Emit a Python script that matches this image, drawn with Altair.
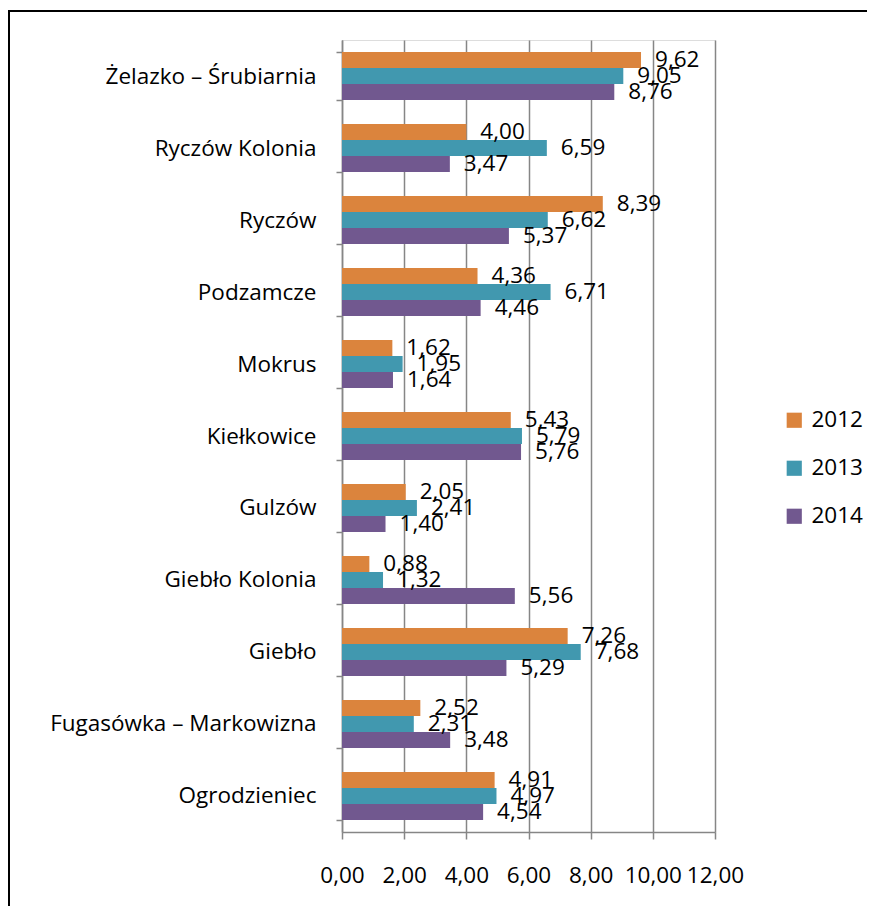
import altair as alt
import pandas as pd

categories = ["Żelazko – Śrubiarnia", "Ryczów Kolonia", "Ryczów", "Podzamcze", "Mokrus",
              "Kiełkowice", "Gulzów", "Giebło Kolonia", "Giebło", "Fugasówka – Markowizna",
              "Ogrodzieniec"]
years = ["2012", "2013", "2014"]
v2012 = [9.62, 4.00, 8.39, 4.36, 1.62, 5.43, 2.05, 0.88, 7.26, 2.52, 4.91]
v2013 = [9.05, 6.59, 6.62, 6.71, 1.95, 5.79, 2.41, 1.32, 7.68, 2.31, 4.97]
v2014 = [8.76, 3.47, 5.37, 4.46, 1.64, 5.76, 1.40, 5.56, 5.29, 3.48, 4.54]
colors = ["#DB843D", "#4198AF", "#71588F"]
x_ticks = [0, 2, 4, 6, 8, 10, 12]

rows = []
for yr, vals in zip(years, [v2012, v2013, v2014]):
    for c, v in zip(categories, vals):
        rows.append({"cat": c, "year": yr, "value": v})
df = pd.DataFrame(rows)

FONT = "Open Sans"
FS = 22.5

base = alt.Chart(df).transform_calculate(
    label="replace(format(datum.value, '.2f'), '.', ',')"
)

y_enc = alt.Y("cat:N", sort=categories, title=None,
              scale=alt.Scale(paddingInner=0.333, paddingOuter=0.167),
              axis=alt.Axis(tickBand="extent", tickSize=6, labelPadding=20,
                            labelFont=FONT, labelFontSize=FS, labelColor="black",
                            domainColor="#868686", tickColor="#868686",
                            domainWidth=1.5, tickWidth=1.5, labelLimit=400))
yoff = alt.YOffset("year:N", sort=years, scale=alt.Scale(paddingInner=0, paddingOuter=0))

bars = base.mark_bar().encode(
    x=alt.X("value:Q", title=None,
            scale=alt.Scale(domain=[0, 12], nice=False, zero=True),
            axis=alt.Axis(values=x_ticks, grid=True, gridColor="#868686", gridWidth=1.5,
                          tickSize=7, tickColor="#868686", tickWidth=1.5,
                          domainColor="#868686", domainWidth=1.5,
                          labelExpr="replace(format(datum.value, '.2f'), '.', ',')",
                          labelFont=FONT, labelFontSize=FS, labelColor="black",
                          labelPadding=25, labelFlush=False)),
    y=y_enc,
    yOffset=yoff,
    color=alt.Color("year:N", sort=years,
                    scale=alt.Scale(domain=years, range=colors),
                    legend=alt.Legend(title=None, orient="none", legendX=441, legendY=369,
                                      symbolType="square", symbolSize=230,
                                      symbolStrokeWidth=0, labelFont=FONT,
                                      labelFontSize=FS, labelColor="black",
                                      rowPadding=25, labelOffset=6, padding=0)),
)

labels = base.mark_text(align="left", baseline="middle", dx=14, font=FONT,
                        fontSize=FS, color="black").encode(
    x="value:Q",
    y=alt.Y("cat:N", sort=categories),
    yOffset=yoff,
    text="label:N",
)

frame = alt.Chart(pd.DataFrame({"a": [0]})).mark_rect(
    fill="transparent", stroke="black", strokeWidth=2
).encode(
    x=alt.value(-333), x2=alt.value(560),
    y=alt.value(-29), y2=alt.value(900),
)

chart = alt.layer(bars, labels, frame).properties(
    width=373, height=792,
    autosize=alt.AutoSizeParams(type="none"),
    padding={"left": 334, "top": 32, "right": 152, "bottom": 74},
).configure_view(stroke=None).configure(background="white")

chart.save("out.html", embed_options={"renderer": "svg", "actions": False})
